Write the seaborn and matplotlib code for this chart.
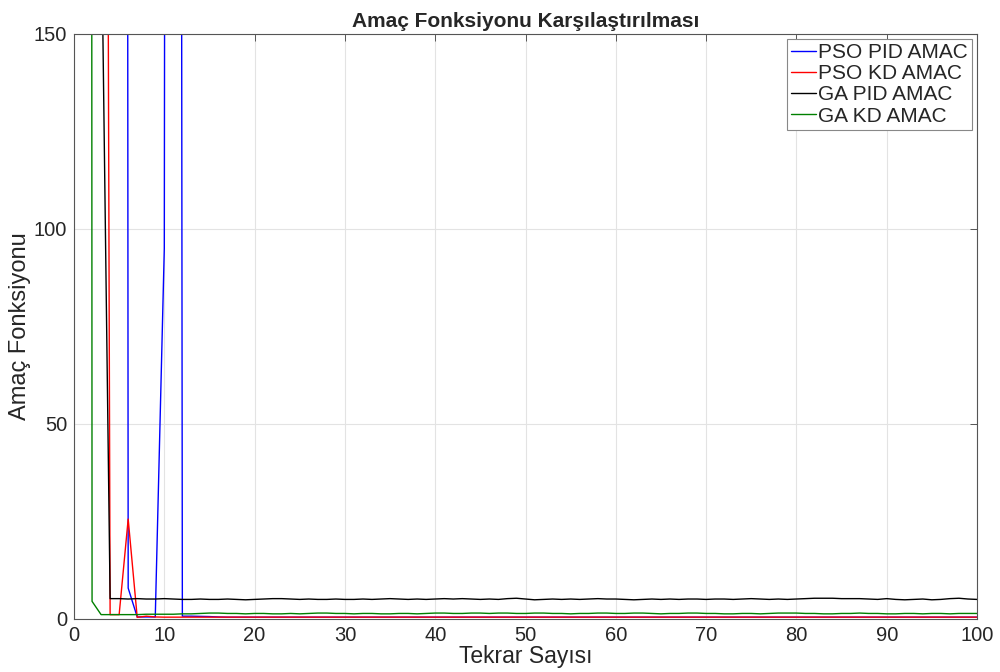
import numpy as np
import pandas as pd
import matplotlib
matplotlib.use("Agg")
from matplotlib import pyplot as plt
import seaborn as sns

sns.set_style("white")
plt.rcParams['font.family'] = ['Liberation Sans', 'DejaVu Sans']

# iteration numbers
tekrar = list(range(1, 101))

# (values above 150 are off the top of the axes)
pso_pid = [3000, 3000, 3000, 3000, 3000, 7.9, 0.5, 0.5, 0.5, 95,
           2000, 0.7, 0.7, 0.65, 0.6, 0.5, 0.45, 0.45, 0.45, 0.45,
           0.45, 0.45, 0.45, 0.45, 0.45, 0.45, 0.45, 0.45, 0.45, 0.45,
           0.45, 0.45, 0.45, 0.45, 0.45, 0.45, 0.45, 0.45, 0.45, 0.45,
           0.45, 0.45, 0.45, 0.45, 0.45, 0.45, 0.45, 0.45, 0.45, 0.45,
           0.45, 0.45, 0.45, 0.45, 0.45, 0.45, 0.45, 0.45, 0.45, 0.45,
           0.45, 0.45, 0.45, 0.45, 0.45, 0.45, 0.45, 0.45, 0.45, 0.45,
           0.45, 0.45, 0.45, 0.45, 0.45, 0.45, 0.45, 0.45, 0.45, 0.45,
           0.45, 0.45, 0.45, 0.45, 0.45, 0.45, 0.45, 0.45, 0.45, 0.45,
           0.45, 0.45, 0.45, 0.45, 0.45, 0.45, 0.45, 0.45, 0.45, 0.45]

pso_kd = [3000, 2000, 750, 1.1, 1.1, 25.6, 0.4, 0.7, 0.5, 0.45,
          0.45, 0.45, 0.45, 0.45, 0.45, 0.45, 0.45, 0.45, 0.45, 0.45,
          0.45, 0.45, 0.45, 0.45, 0.45, 0.45, 0.45, 0.45, 0.45, 0.45,
          0.45, 0.45, 0.45, 0.45, 0.45, 0.45, 0.45, 0.45, 0.45, 0.45,
          0.45, 0.45, 0.45, 0.45, 0.45, 0.45, 0.45, 0.45, 0.45, 0.45,
          0.45, 0.45, 0.45, 0.45, 0.45, 0.45, 0.45, 0.45, 0.45, 0.45,
          0.45, 0.45, 0.45, 0.45, 0.45, 0.45, 0.45, 0.45, 0.45, 0.45,
          0.45, 0.45, 0.45, 0.45, 0.45, 0.45, 0.45, 0.45, 0.45, 0.45,
          0.45, 0.45, 0.45, 0.45, 0.45, 0.45, 0.45, 0.45, 0.45, 0.45,
          0.45, 0.45, 0.45, 0.45, 0.45, 0.45, 0.45, 0.45, 0.45, 0.45]

ga_pid = [2000, 1000, 186, 5.2, 5.2, 5.1, 5.2, 5.1, 5.1, 5.2,
          5.1, 5.0, 5.0, 5.1, 5.0, 5.0, 5.1, 5.0, 4.9, 5.0,
          5.1, 5.2, 5.2, 5.1, 5.0, 5.1, 5.0, 5.0, 5.1, 5.0,
          5.0, 5.1, 5.0, 5.1, 5.2, 5.1, 5.0, 5.1, 5.0, 5.1,
          5.2, 5.1, 5.2, 5.1, 5.0, 5.1, 5.0, 5.2, 5.3, 5.1,
          4.9, 5.0, 5.1, 5.0, 5.1, 5.0, 5.1, 5.2, 5.1, 5.1,
          5.0, 4.9, 5.0, 5.1, 5.0, 5.1, 5.0, 5.1, 5.1, 5.0,
          5.1, 5.1, 5.0, 5.1, 5.2, 5.1, 5.0, 5.1, 5.0, 5.1,
          5.2, 5.3, 5.3, 5.3, 5.2, 5.2, 5.2, 5.1, 5.0, 5.2,
          5.0, 4.9, 5.0, 5.1, 4.9, 5.0, 5.2, 5.3, 5.1, 5.0]

ga_kd = [5000, 4.5, 1.1, 1.1, 1.1, 1.1, 1.1, 1.2, 1.2, 1.2,
         1.2, 1.3, 1.3, 1.4, 1.5, 1.5, 1.4, 1.4, 1.3, 1.4,
         1.4, 1.3, 1.3, 1.4, 1.3, 1.4, 1.5, 1.5, 1.4, 1.4,
         1.3, 1.4, 1.4, 1.3, 1.3, 1.4, 1.4, 1.3, 1.4, 1.5,
         1.5, 1.4, 1.4, 1.5, 1.5, 1.4, 1.5, 1.5, 1.4, 1.4,
         1.5, 1.5, 1.4, 1.4, 1.3, 1.4, 1.4, 1.5, 1.5, 1.4,
         1.4, 1.5, 1.5, 1.4, 1.3, 1.4, 1.4, 1.5, 1.5, 1.4,
         1.4, 1.3, 1.3, 1.4, 1.4, 1.3, 1.4, 1.5, 1.5, 1.5,
         1.4, 1.4, 1.3, 1.3, 1.4, 1.4, 1.5, 1.4, 1.4, 1.3,
         1.3, 1.4, 1.4, 1.3, 1.4, 1.4, 1.3, 1.4, 1.4, 1.4]

names = ["PSO PID AMAC", "PSO KD AMAC", "GA PID AMAC", "GA KD AMAC"]
colours = ["#0000ff", "#ff0000", "#000000", "#008000"]

frames = []
for name, vals in zip(names, [pso_pid, pso_kd, ga_pid, ga_kd]):
    frames.append(pd.DataFrame({"Tekrar": tekrar, "Amac": vals, "Seri": name}))
df = pd.concat(frames, ignore_index=True)

fig = plt.figure(figsize=(10, 6.72), dpi=100)
ax = fig.add_axes([0.074, 0.079, 0.903, 0.8705])

sns.lineplot(data=df, x="Tekrar", y="Amac", hue="Seri", hue_order=names,
             palette=dict(zip(names, colours)), linewidth=1.0, ax=ax)

ax.set_xlim(0, 100)
ax.set_ylim(0, 150)
ax.set_xticks(np.arange(0, 101, 10))
ax.set_yticks([0, 50, 100, 150])
ax.grid(True, color="#e3e3e3", linewidth=0.8)
ax.set_axisbelow(True)
for sp in ax.spines.values():
    sp.set_color("#555555")
    sp.set_linewidth(0.8)
ax.tick_params(direction="in", length=5, width=0.7, color="#555555",
               top=True, right=True, labelsize=14.5, labelcolor="#262626", pad=5)

ax.set_xlabel("Tekrar Sayısı", fontsize=16.5, color="#262626", labelpad=0)
ax.set_ylabel("Amaç Fonksiyonu", fontsize=17, color="#262626", labelpad=2)
ax.set_title("Amaç Fonksiyonu Karşılaştırılması", fontsize=15,
             fontweight="bold", pad=5)

handles, labels = ax.get_legend_handles_labels()
leg = ax.legend(handles, labels, loc="upper right", fontsize=15,
                handlelength=1.2, handletextpad=0.1, labelspacing=0.1,
                borderpad=0.2, borderaxespad=0.25, fancybox=False,
                framealpha=1, edgecolor="#888888")
leg.get_frame().set_linewidth(0.8)

fig.savefig("out.png", dpi=100)
